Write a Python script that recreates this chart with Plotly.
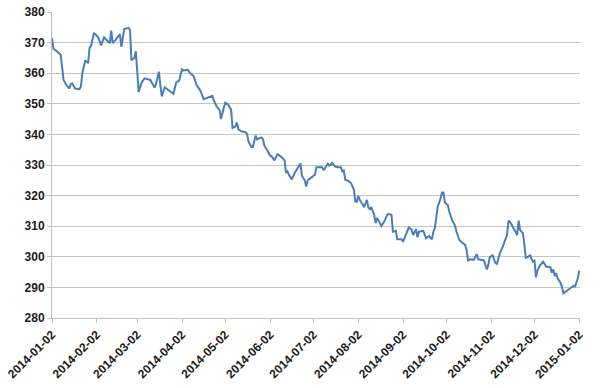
import plotly.graph_objects as go

dates = [
    "2014-01-02", "2014-01-03", "2014-01-05", "2014-01-08", "2014-01-09", "2014-01-10", "2014-01-12",
    "2014-01-14", "2014-01-15", "2014-01-16", "2014-01-18", "2014-01-21", "2014-01-22", "2014-01-23",
    "2014-01-25", "2014-01-26", "2014-01-27", "2014-01-28", "2014-01-29", "2014-01-31", "2014-02-01",
    "2014-02-03", "2014-02-04", "2014-02-05", "2014-02-07", "2014-02-09", "2014-02-10", "2014-02-11",
    "2014-02-12", "2014-02-13", "2014-02-15", "2014-02-18", "2014-02-19", "2014-02-21", "2014-02-24",
    "2014-02-25", "2014-02-26", "2014-02-28", "2014-03-01", "2014-03-02", "2014-03-03", "2014-03-05",
    "2014-03-07", "2014-03-11", "2014-03-14", "2014-03-15", "2014-03-17", "2014-03-18", "2014-03-19",
    "2014-03-21", "2014-03-23", "2014-03-25", "2014-03-27", "2014-03-29", "2014-03-31", "2014-04-02",
    "2014-04-03", "2014-04-06", "2014-04-08", "2014-04-10", "2014-04-11", "2014-04-12", "2014-04-14",
    "2014-04-15", "2014-04-17", "2014-04-19", "2014-04-21", "2014-04-23", "2014-04-24", "2014-04-26",
    "2014-04-28", "2014-04-29", "2014-05-01", "2014-05-02", "2014-05-04", "2014-05-06", "2014-05-07",
    "2014-05-09", "2014-05-10", "2014-05-11", "2014-05-13", "2014-05-16", "2014-05-17", "2014-05-18",
    "2014-05-20", "2014-05-21", "2014-05-23", "2014-05-24", "2014-05-25", "2014-05-27", "2014-05-28",
    "2014-05-29", "2014-05-31", "2014-06-02", "2014-06-03", "2014-06-05", "2014-06-07", "2014-06-08",
    "2014-06-10", "2014-06-12", "2014-06-13", "2014-06-14", "2014-06-15", "2014-06-17", "2014-06-19",
    "2014-06-22", "2014-06-23", "2014-06-24", "2014-06-26", "2014-06-27", "2014-06-28", "2014-06-30",
    "2014-07-02", "2014-07-03", "2014-07-04", "2014-07-07", "2014-07-08", "2014-07-09", "2014-07-11",
    "2014-07-12", "2014-07-13", "2014-07-14", "2014-07-15", "2014-07-17", "2014-07-19", "2014-07-21",
    "2014-07-22", "2014-07-23", "2014-07-24", "2014-07-26", "2014-07-28", "2014-07-30", "2014-07-31",
    "2014-08-01", "2014-08-02", "2014-08-03", "2014-08-05", "2014-08-06", "2014-08-08", "2014-08-09",
    "2014-08-10", "2014-08-11", "2014-08-13", "2014-08-14", "2014-08-15", "2014-08-16", "2014-08-18",
    "2014-08-20", "2014-08-22", "2014-08-23", "2014-08-25", "2014-08-26", "2014-08-28", "2014-08-29",
    "2014-09-01", "2014-09-02", "2014-09-04", "2014-09-06", "2014-09-08", "2014-09-09", "2014-09-11",
    "2014-09-12", "2014-09-13", "2014-09-15", "2014-09-16", "2014-09-18", "2014-09-20", "2014-09-22",
    "2014-09-23", "2014-09-24", "2014-09-26", "2014-09-28", "2014-09-29", "2014-09-30", "2014-10-01",
    "2014-10-03", "2014-10-04", "2014-10-06", "2014-10-08", "2014-10-09", "2014-10-11", "2014-10-13",
    "2014-10-15", "2014-10-16", "2014-10-17", "2014-10-18", "2014-10-20", "2014-10-21", "2014-10-22",
    "2014-10-23", "2014-10-24", "2014-10-26", "2014-10-28", "2014-10-29", "2014-10-30", "2014-10-31",
    "2014-11-01", "2014-11-03", "2014-11-05", "2014-11-06", "2014-11-08", "2014-11-10", "2014-11-12",
    "2014-11-13", "2014-11-14", "2014-11-15", "2014-11-17", "2014-11-19", "2014-11-20", "2014-11-21",
    "2014-11-22", "2014-11-23", "2014-11-24", "2014-11-25", "2014-11-26", "2014-11-27", "2014-11-29",
    "2014-11-30", "2014-12-01", "2014-12-02", "2014-12-03", "2014-12-04", "2014-12-06", "2014-12-08",
    "2014-12-09", "2014-12-10", "2014-12-13", "2014-12-14", "2014-12-15", "2014-12-16", "2014-12-17",
    "2014-12-18", "2014-12-20", "2014-12-21", "2014-12-22", "2014-12-25", "2014-12-27", "2014-12-29",
    "2014-12-30", "2015-01-01", "2015-01-02",
]

values = [
    371.5, 368.0, 367.3, 366.0, 362.0, 357.8, 356.1,
    355.0, 356.4, 356.7, 355.0, 354.8, 355.6, 360.0,
    364.2, 363.7, 363.3, 368.3, 368.9, 373.0, 372.8,
    371.7, 370.6, 369.1, 371.7, 370.9, 370.2, 369.8,
    373.9, 369.8, 370.9, 372.8, 368.6, 374.4, 374.8,
    374.1, 364.2, 365.0, 367.2, 361.1, 353.9, 356.9,
    358.3, 357.8, 355.3, 356.5, 360.5, 356.2, 352.4,
    355.4, 354.8, 354.0, 353.3, 357.0, 357.6, 361.3,
    360.9, 361.1, 359.8, 359.1, 357.6, 356.2, 354.8,
    354.0, 351.5, 351.8, 352.2, 352.6, 351.1, 349.1,
    348.0, 345.0, 348.9, 350.4, 349.7, 348.0, 342.1,
    342.6, 343.9, 341.7, 341.0, 340.7, 340.2, 337.7,
    335.9, 335.9, 339.6, 338.3, 338.6, 339.0, 338.5,
    336.3, 334.8, 333.0, 332.9, 331.5, 333.5, 333.3,
    332.5, 331.5, 327.5, 327.9, 326.8, 325.3, 327.4,
    329.6, 330.5, 326.5, 324.9, 323.0, 325.0, 325.7,
    326.3, 326.8, 329.3, 329.3, 329.3, 328.3, 329.6,
    330.4, 329.8, 330.1, 330.7, 329.5, 329.3, 329.3,
    327.9, 328.2, 325.2, 324.8, 324.1, 321.9, 318.0,
    318.0, 319.9, 318.6, 317.2, 316.2, 318.6, 316.0,
    315.6, 316.2, 313.8, 311.0, 312.7, 311.8, 310.1,
    311.5, 313.7, 314.0, 313.7, 308.2, 308.5, 305.7,
    305.7, 304.9, 307.1, 309.6, 308.8, 307.1, 309.0,
    306.4, 308.2, 308.5, 308.5, 306.0, 306.8, 305.7,
    308.2, 309.3, 316.4, 319.1, 321.0, 321.0, 317.7,
    316.9, 314.7, 312.0, 310.1, 308.2, 305.5, 304.6,
    303.9, 302.2, 298.6, 299.2, 299.0, 299.0, 300.0,
    300.8, 299.2, 299.0, 298.8, 297.3, 295.9, 297.3,
    299.8, 300.5, 297.9, 297.7, 301.1, 303.3, 306.0,
    307.1, 311.8, 311.4, 309.8, 307.7, 307.1, 311.8,
    308.8, 308.2, 307.7, 303.9, 299.7, 299.8, 300.5,
    299.2, 298.4, 298.7, 293.3, 295.5, 297.3, 298.4,
    297.3, 296.8, 296.6, 294.8, 295.9, 293.7, 294.6,
    293.0, 291.5, 290.2, 288.1, 289.0, 289.8, 290.5,
    290.3, 293.0, 295.5,
]

x_ticks = [
    "2014-01-02", "2014-02-02", "2014-03-02", "2014-04-02", "2014-05-02", "2014-06-02",
    "2014-07-02", "2014-08-02", "2014-09-02", "2014-10-02", "2014-11-02", "2014-12-02",
    "2015-01-02",
]
y_ticks = [280, 290, 300, 310, 320, 330, 340, 350, 360, 370, 380]

fig = go.Figure()
fig.add_trace(go.Scatter(
    x=dates, y=values, mode="lines",
    line=dict(color="#4A7EBB", width=2),
    showlegend=False, hoverinfo="skip",
))

tick_font = dict(family="Liberation Sans, Arial, sans-serif", size=12, color="#1a1a1a")

fig.update_layout(
    width=600, height=388,
    margin=dict(l=52, r=20, t=12, b=70),
    paper_bgcolor="white", plot_bgcolor="white",
    showlegend=False,
)
fig.update_xaxes(
    type="date",
    range=["2014-01-02", "2015-01-02 12:00"],
    tickmode="array", tickvals=x_ticks,
    ticktext=["<b>" + t + "</b>" for t in x_ticks],
    tickangle=-45, tickfont=tick_font,
    showgrid=False, zeroline=False,
    showline=True, linecolor="#bfbfbf", linewidth=1,
    ticks="outside", ticklen=4, tickcolor="#bfbfbf", tickwidth=1,
    automargin=False,
)
fig.update_yaxes(
    range=[280, 380],
    tickmode="array", tickvals=y_ticks,
    ticktext=["<b>" + str(v) + "</b>" for v in y_ticks],
    tickfont=tick_font,
    showgrid=True, gridcolor="#c4c4c4", gridwidth=1,
    zeroline=False,
    showline=True, linecolor="#bfbfbf", linewidth=1,
    ticks="outside", ticklen=4, tickcolor="#bfbfbf", tickwidth=1,
    automargin=False,
)

fig.write_html("out.html", config={"displayModeBar": False, "staticPlot": True})

# remove the browser's default page margin so the figure sits at the window origin
with open("out.html", "r", encoding="utf-8") as f:
    html = f.read()
html = html.replace("<head>", "<head><style>html,body{margin:0;padding:0;overflow:hidden;}</style>", 1)
with open("out.html", "w", encoding="utf-8") as f:
    f.write(html)
